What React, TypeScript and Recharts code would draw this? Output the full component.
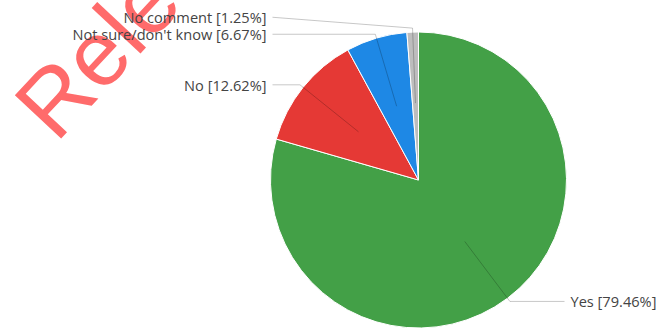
import React from 'react';
import { PieChart, Pie, Cell } from 'recharts';

const categories = ['Yes', 'No', "Not sure/don't know", 'No comment'];
const values = [79.46, 12.62, 6.67, 1.25];
const colors = ['#43a047', '#e53935', '#1e88e5', '#bdbdbd'];
const watermarkText = 'Released';

const data = categories.map((name, i) => ({ name, value: values[i] }));

const RAD = Math.PI / 180;
const START = 90;
const END = -270;

function labelOffsets(r: number): number[] {
  const total = values.reduce((a, b) => a + b, 0);
  let acc = 0;
  const items = values.map((v, i) => {
    const mid = START + ((acc + v / 2) / total) * (END - START);
    acc += v;
    const c = Math.cos(-mid * RAD);
    const s = Math.sin(-mid * RAD);
    return { i, side: c >= 0 ? 1 : -1, dy: s * (r + 4) };
  });
  const out: number[] = items.map((it) => it.dy);
  const gap = 17;
  const left = items.filter((it) => it.side < 0).sort((a, b) => b.dy - a.dy);
  let prev = Infinity;
  left.forEach((it) => {
    const d = Math.min(it.dy, prev - gap);
    out[it.i] = d;
    prev = d;
  });
  const right = items.filter((it) => it.side > 0).sort((a, b) => a.dy - b.dy);
  prev = -Infinity;
  right.forEach((it) => {
    const d = Math.max(it.dy, prev + gap);
    out[it.i] = d;
    prev = d;
  });
  return out;
}

const OUTER = 148;
const offsets = labelOffsets(OUTER);

const renderLabel = (props: any) => {
  const { cx, cy, midAngle, outerRadius, index, name, value } = props;
  const c = Math.cos(-midAngle * RAD);
  const s = Math.sin(-midAngle * RAD);
  const sx = cx + outerRadius * 0.52 * c;
  const sy = cy + outerRadius * 0.52 * s;
  const ex = cx + (outerRadius + 4) * c;
  const ey = cy + (outerRadius + 4) * s;
  const side = c >= 0 ? 1 : -1;
  const ly = cy + offsets[index];
  const lx = cx + side * (outerRadius - 2);
  const tx = cx + side * (outerRadius + 4);
  return (
    <g key={`lbl-${index}`}>
      <polyline
        points={`${sx},${sy} ${ex},${ey} ${lx},${ly}`}
        fill="none"
        stroke="#000"
        strokeOpacity={0.22}
        strokeWidth={1}
      />
      <text
        x={tx}
        y={ly}
        textAnchor={side > 0 ? 'start' : 'end'}
        dominantBaseline="central"
        fill="#444"
        fontSize={14.6}
        fontFamily="'Open Sans', sans-serif"
      >
        {`${name} [${value.toFixed(2)}%]`}
      </text>
    </g>
  );
};

export default function App() {
  return (
    <div style={{ position: 'absolute', left: 0, top: 0, width: 658, height: 328, background: '#fff', overflow: 'hidden' }}>
      <svg width={658} height={328} style={{ position: 'absolute', left: 0, top: 0 }}>
        <text
          x={56}
          y={144}
          transform="rotate(-47 56 144)"
          fontSize={92}
          fontFamily="'Liberation Sans', Arial, sans-serif"
          fill="#ff6b6b"
        >
          {watermarkText}
        </text>
      </svg>
      <PieChart width={658} height={328} margin={{ top: 0, right: 0, bottom: 0, left: 0 }}>
        <Pie
          data={data}
          dataKey="value"
          nameKey="name"
          cx={418.5}
          cy={180}
          innerRadius={0}
          outerRadius={OUTER}
          startAngle={START}
          endAngle={END}
          stroke="#fff"
          strokeWidth={1}
          label={renderLabel}
          labelLine={false}
          isAnimationActive={false}
        >
          {data.map((d, i) => (
            <Cell key={d.name} fill={colors[i]} />
          ))}
        </Pie>
      </PieChart>
    </div>
  );
}
